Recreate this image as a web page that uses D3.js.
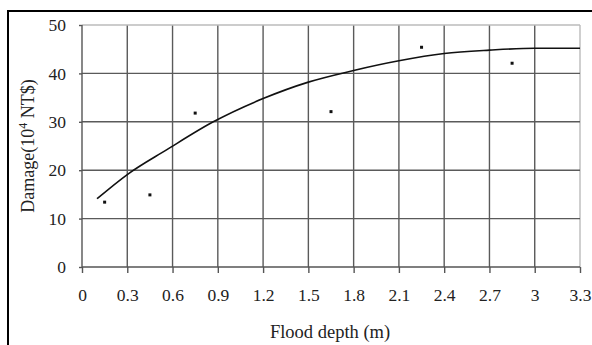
<!DOCTYPE html>
<html>
<head>
<meta charset="utf-8">
<script src="https://cdn.jsdelivr.net/npm/d3@7"></script>
<style>
  body { margin: 0; background: #fff; }
  svg { display: block; }
  text { font-family: "Liberation Serif", "Times New Roman", serif; fill: #222; }
</style>
</head>
<body>
<svg width="592" height="345"></svg>
<script>
// observed damage points
const depths = [0.15, 0.45, 0.75, 1.65, 2.25, 2.85];
const damages = [13.4, 14.9, 31.8, 32.1, 45.4, 42.1];

// fitted curve
const curveX = [0.1, 0.3, 0.56, 0.87, 1.2, 1.5, 1.8, 2.1, 2.4, 2.7, 3.0, 3.3];
const curveY = [14.1, 19.1, 24.2, 30.0, 34.8, 38.2, 40.6, 42.6, 44.1, 44.8, 45.2, 45.2];

const xTicks = [0, 0.3, 0.6, 0.9, 1.2, 1.5, 1.8, 2.1, 2.4, 2.7, 3, 3.3];
const yTicks = [0, 10, 20, 30, 40, 50];

const margin = { top: 25, right: 12, bottom: 78, left: 82 };
const width = 580 - margin.left;
const height = 267 - margin.top;

const svg = d3.select('svg');

// frame (only top and left edges are visible in the picture)
svg.append('line').attr('x1', 8).attr('x2', 592).attr('y1', 11).attr('y2', 11)
  .attr('stroke', '#000').attr('stroke-width', 2);
svg.append('line').attr('x1', 8).attr('x2', 8).attr('y1', 10).attr('y2', 345)
  .attr('stroke', '#000').attr('stroke-width', 2);

const g = svg.append('g').attr('transform', `translate(${margin.left},${margin.top})`);

const x = d3.scaleLinear().domain([0, 3.3]).range([0, width]);
const y = d3.scaleLinear().domain([0, 50]).range([height, 0]);

// grid
g.selectAll('.vgrid')
  .data(xTicks.slice(1))
  .enter().append('line')
  .attr('x1', d => x(d)).attr('x2', d => x(d))
  .attr('y1', 0).attr('y2', height)
  .attr('stroke', (d, i) => i === xTicks.length - 2 ? '#bbb' : '#5a5a5a')
  .attr('stroke-width', 1.4);

g.selectAll('.hgrid')
  .data(yTicks.slice(1))
  .enter().append('line')
  .attr('x1', 0).attr('x2', width)
  .attr('y1', d => y(d)).attr('y2', d => y(d))
  .attr('stroke', d => d === 50 ? '#bbb' : '#5a5a5a')
  .attr('stroke-width', 1.4);

// axes
const xAxis = g.append('g')
  .attr('transform', `translate(0,${height})`)
  .call(d3.axisBottom(x).tickValues(xTicks).tickSize(6).tickPadding(16)
    .tickFormat(d => d3.format('')(+d.toFixed(1))));

const yAxis = g.append('g')
  .call(d3.axisLeft(y).tickValues(yTicks).tickSize(3).tickPadding(13));

[xAxis, yAxis].forEach(a => {
  a.select('.domain').attr('stroke', '#555').attr('stroke-width', 1.4);
  a.selectAll('.tick line').attr('stroke', '#555').attr('stroke-width', 1.4);
  a.selectAll('.tick text').attr('font-size', 17.5)
    .attr('font-family', '"Liberation Serif", serif').attr('fill', '#333');
});
yAxis.select('.domain').attr('d', `M0,${height}V0`);
xAxis.select('.domain').attr('d', `M0,0H${width}`);

// fitted curve
const line = d3.line()
  .x(d => x(d[0]))
  .y(d => y(d[1]))
  .curve(d3.curveMonotoneX);

g.append('path')
  .datum(curveX.map((v, i) => [v, curveY[i]]))
  .attr('d', line)
  .attr('fill', 'none')
  .attr('stroke', '#111')
  .attr('stroke-width', 1.6);

// points
g.selectAll('.pt')
  .data(depths.map((v, i) => [v, damages[i]]))
  .enter().append('rect')
  .attr('x', d => x(d[0]) - 1.5)
  .attr('y', d => y(d[1]) - 1.5)
  .attr('width', 3).attr('height', 3)
  .attr('fill', '#111');

// axis titles
svg.append('text')
  .attr('x', 330).attr('y', 338)
  .attr('text-anchor', 'middle')
  .attr('font-size', 18.5)
  .text('Flood depth (m)');

const yt = svg.append('text')
  .attr('transform', 'translate(34,146) rotate(-90)')
  .attr('text-anchor', 'middle')
  .attr('font-size', 18);
yt.append('tspan').text('Damage(10');
yt.append('tspan').attr('font-size', 12).attr('dy', -7).text('4');
yt.append('tspan').attr('dy', 7).text(' NT$)');
</script>
</body>
</html>
